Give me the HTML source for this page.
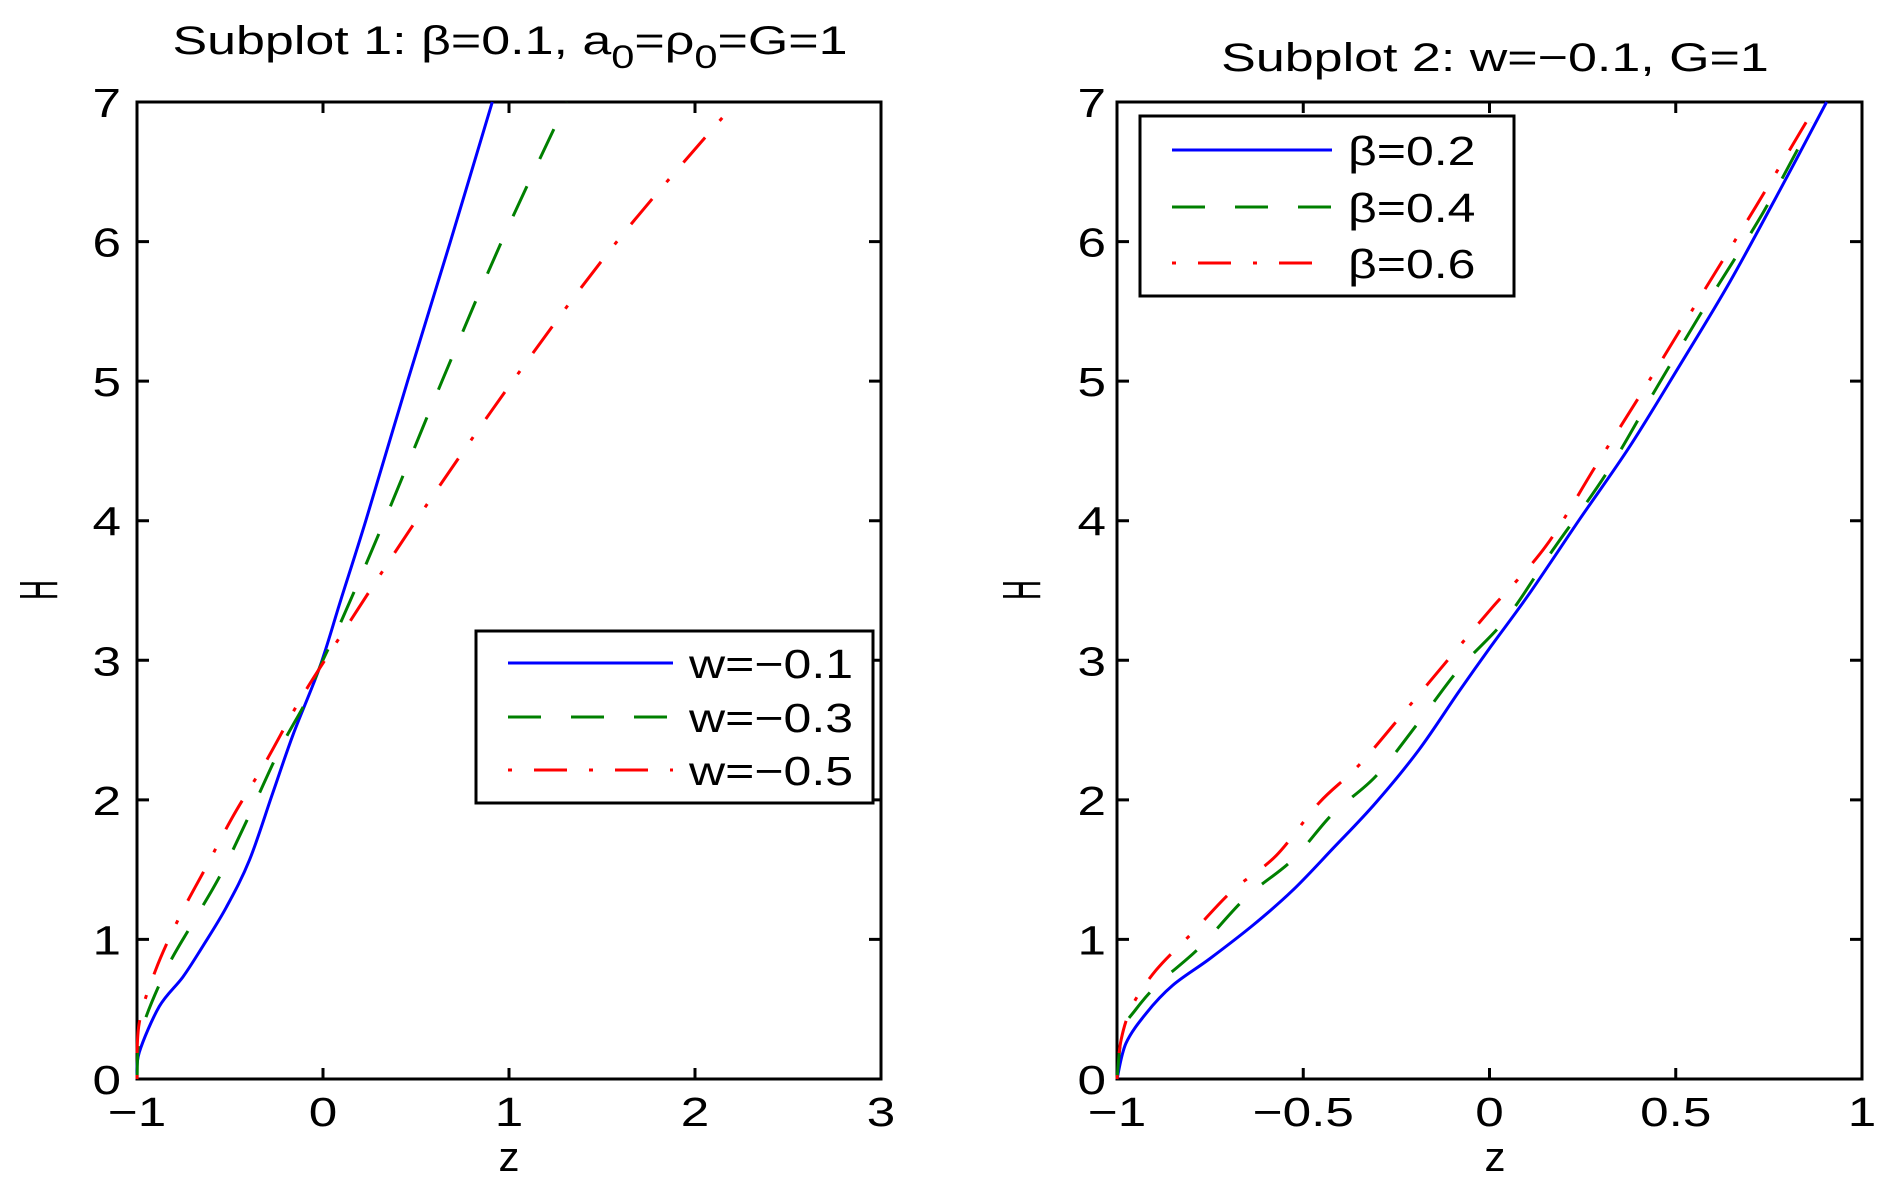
<!DOCTYPE html>
<html><head><meta charset="utf-8"><style>
html,body{margin:0;padding:0;background:#fff}
svg{display:block;font-family:"Liberation Sans",Arial,sans-serif}
</style></head><body>
<svg id="fig" width="1893" height="1184" viewBox="0 0 1893 1184">
<g id="p1"></g>
<g id="p2"></g>
</svg>
<script>
// Subplot 1 data
const hW01 = [0, 0.19, 0.52, 0.73, 0.95, 1.23, 1.57, 2.05, 2.47, 2.95, 3.43, 4, 5, 6, 7];
const zW01 = [-1, -0.988, -0.88, -0.754, -0.647, -0.52, -0.395, -0.27, -0.16, -0.018, 0.095, 0.23, 0.455, 0.685, 0.91];
const hW03 = [0, 0.33, 0.78, 1.12, 1.45, 1.85, 2.36, 2.71, 2.95, 3.31, 4, 5, 6, 7];
const zW03 = [-1, -0.979, -0.844, -0.70, -0.556, -0.41, -0.233, -0.09, -0.018, 0.108, 0.33, 0.64, 0.96, 1.31];
const hW05 = [0, 0.40, 0.78, 1.16, 1.52, 1.88, 2.28, 2.71, 3.09, 4, 5, 6, 7];
const zW05 = [-1, -0.988, -0.90, -0.772, -0.628, -0.485, -0.305, -0.126, 0.054, 0.5, 1.02, 1.58, 2.22];
const xTicks1 = [-1, 0, 1, 2, 3];
const xTickLabels1 = ["\u22121", "0", "1", "2", "3"];
const yTicks = [0, 1, 2, 3, 4, 5, 6, 7];
// Subplot 2 data
const hB02 = [0, 0.255, 0.47, 0.67, 0.86, 1.10, 1.35, 1.65, 1.98, 2.36, 2.78, 3.10, 3.47, 4.01, 4.53, 5.11, 5.71, 6.37, 7];
const zB02 = [-1, -0.976, -0.922, -0.851, -0.752, -0.636, -0.529, -0.421, -0.305, -0.189, -0.081, 0.004, 0.105, 0.242, 0.376, 0.51, 0.645, 0.78, 0.905];
const hB04 = [0, 0.34, 0.50, 0.69, 0.94, 1.30, 1.57, 1.90, 2.17, 2.56, 2.94, 3.30, 3.79, 4.34, 4.95, 5.55, 6.21, 6.85];
const zB04 = [-1, -0.985, -0.949, -0.886, -0.779, -0.654, -0.529, -0.421, -0.305, -0.189, -0.081, 0.045, 0.170, 0.314, 0.448, 0.582, 0.735, 0.865];
const hB06 = [0, 0.28, 0.53, 0.78, 1.05, 1.35, 1.60, 1.98, 2.25, 2.67, 3.10, 3.38, 3.82, 4.40, 4.97, 5.60, 6.26, 6.90];
const zB06 = [-1, -0.989, -0.958, -0.895, -0.797, -0.690, -0.573, -0.457, -0.35, -0.216, -0.081, 0.008, 0.152, 0.287, 0.421, 0.565, 0.717, 0.86];
const xTicks2 = [-1, -0.5, 0, 0.5, 1];
const xTickLabels2 = ["\u22121", "\u22120.5", "0", "0.5", "1"];

const NS = "http://www.w3.org/2000/svg";
const SX = 1.25;
function mk(parent, tag, attrs, txt) {
  const e = document.createElementNS(NS, tag);
  for (const k in attrs) e.setAttribute(k, attrs[k]);
  if (txt !== undefined) e.textContent = txt;
  parent.appendChild(e);
  return e;
}
function smoothPath(pts) {
  let d = "M" + pts[0][0].toFixed(1) + "," + pts[0][1].toFixed(1);
  for (let i = 0; i < pts.length - 1; i++) {
    const p0 = pts[Math.max(0, i - 1)], p1 = pts[i], p2 = pts[i + 1], p3 = pts[Math.min(pts.length - 1, i + 2)];
    const c1 = [p1[0] + (p2[0] - p0[0]) / 6, p1[1] + (p2[1] - p0[1]) / 6];
    const c2 = [p2[0] - (p3[0] - p1[0]) / 6, p2[1] - (p3[1] - p1[1]) / 6];
    d += "C" + c1.map(v => v.toFixed(1)).join(",") + " " + c2.map(v => v.toFixed(1)).join(",") + " " + p2.map(v => v.toFixed(1)).join(",");
  }
  return d;
}
const dashes = { solid: "none", dash: "33 30", dashdot: "4 22 33 22" };
const colors = { blue: "#0000ff", green: "#008000", red: "#ff0000" };

function drawAxes(g, L, R, T, B, xmin, xmax, xt, xtl, ylabX) {
  const sx = v => L + (v - xmin) / (xmax - xmin) * (R - L);
  const sy = v => B - v / 7 * (B - T);
  const ax = mk(g, "g", {});
  
  
  mk(ax, "rect", { x: L, y: T, width: R - L, height: B - T, fill: "none", stroke: "#000", "stroke-width": 3 });
  xt.forEach((v, i) => {
    const x = sx(v);
    const t = mk(ax, "path", { d: `M${x},${B}v-11M${x},${T}v11`, stroke: "#000", "stroke-width": 3 });
    
    
    const lb = mk(g, "text", { transform: `translate(${x},1126) scale(${SX},1)`, "font-size": 41, "text-anchor": "middle" }, xtl[i]);
    
    
  });
  yTicks.forEach(v => {
    const y = sy(v);
    const t = mk(ax, "path", { d: `M${L},${y}h12M${R},${y}h-12`, stroke: "#000", "stroke-width": 3 });
    
    
    const lb = mk(g, "text", { transform: `translate(${ylabX},${y + 15}) scale(${SX},1)`, "font-size": 41, "text-anchor": "end" }, String(v));
    
    
  });
  return { sx, sy };
}
function drawSeries(g, sx, sy, zs, hs, col, dash, name) {
  const pts = zs.map((z, i) => [sx(z), sy(hs[i])]);
  const p = mk(g, "path", { d: smoothPath(pts), fill: "none", stroke: colors[col], "stroke-width": 3, "stroke-dasharray": dashes[dash] });
  
  
}
function drawLegend(g, x, y, w, h, lx1, lx2, tx, rows) {
  const lg = mk(g, "g", {});
  
  
  mk(lg, "rect", { x, y, width: w, height: h, fill: "#fff", stroke: "#000", "stroke-width": 3 });
  rows.forEach(r => {
    const e = mk(lg, "g", {});
    
    
    mk(e, "line", { x1: lx1, x2: lx2, y1: r.y, y2: r.y, stroke: colors[r.c], "stroke-width": 3, "stroke-dasharray": dashes[r.d] });
    mk(e, "text", { transform: `translate(${tx},${r.y + 15}) scale(1.22,1)`, "font-size": 41 }, r.t);
  });
}

// Subplot 1
const g1 = document.getElementById("p1");
const a1 = drawAxes(g1, 137, 881, 102, 1079, -1, 3, xTicks1, xTickLabels1, 121);
drawSeries(g1, a1.sx, a1.sy, zW01, hW01, "blue", "solid", "line-w-0.1");
drawSeries(g1, a1.sx, a1.sy, zW03, hW03, "green", "dash", "line-w-0.3");
drawSeries(g1, a1.sx, a1.sy, zW05, hW05, "red", "dashdot", "line-w-0.5");
drawLegend(g1, 476, 631, 397, 172, 508, 673, 689, [
  { y: 663, c: "blue", d: "solid", t: "w=\u22120.1" },
  { y: 717, c: "green", d: "dash", t: "w=\u22120.3" },
  { y: 770, c: "red", d: "dashdot", t: "w=\u22120.5" }]);

// Subplot 2
const g2 = document.getElementById("p2");
const a2 = drawAxes(g2, 1117, 1862, 102, 1079, -1, 1, xTicks2, xTickLabels2, 1106);
drawSeries(g2, a2.sx, a2.sy, zB02, hB02, "blue", "solid", "line-beta-0.2");
drawSeries(g2, a2.sx, a2.sy, zB04, hB04, "green", "dash", "line-beta-0.4");
drawSeries(g2, a2.sx, a2.sy, zB06, hB06, "red", "dashdot", "line-beta-0.6");
drawLegend(g2, 1140, 116, 374, 180, 1172, 1332, 1348, [
  { y: 150, c: "blue", d: "solid", t: "\u03b2=0.2" },
  { y: 207, c: "green", d: "dash", t: "\u03b2=0.4" },
  { y: 263, c: "red", d: "dashdot", t: "\u03b2=0.6" }]);
</script>
<script>
const fig = document.getElementById("fig");
function txt(attrs, content, name) {
  const e = document.createElementNS("http://www.w3.org/2000/svg", "text");
  for (const k in attrs) e.setAttribute(k, attrs[k]);
  e.innerHTML = content;
  
  
  fig.appendChild(e);
}
txt({ transform: "translate(510,54) scale(1.3,1)", "font-size": 40, "text-anchor": "middle" },
  'Subplot 1: \u03b2=0.1, a<tspan font-size="32" dy="14">0</tspan><tspan dy="-14">=\u03c1</tspan><tspan font-size="32" dy="14">0</tspan><tspan dy="-14">=G=1</tspan>', "title-subplot-1");
txt({ transform: "translate(1495,71) scale(1.3,1)", "font-size": 40, "text-anchor": "middle" },
  'Subplot 2: w=\u22120.1, G=1', "title-subplot-2");
txt({ x: 509, y: 1171, "font-size": 42, "text-anchor": "middle" }, 'z', "x-axis-title-1");
txt({ x: 1495, y: 1171, "font-size": 42, "text-anchor": "middle" }, 'z', "x-axis-title-2");
txt({ "font-size": 36, "text-anchor": "middle", transform: "translate(57,590) rotate(-90) scale(0.77,1.5)" }, 'H', "y-axis-title-1");
txt({ "font-size": 36, "text-anchor": "middle", transform: "translate(1040,590) rotate(-90) scale(0.77,1.5)" }, 'H', "y-axis-title-2");
</script>
</body></html>
